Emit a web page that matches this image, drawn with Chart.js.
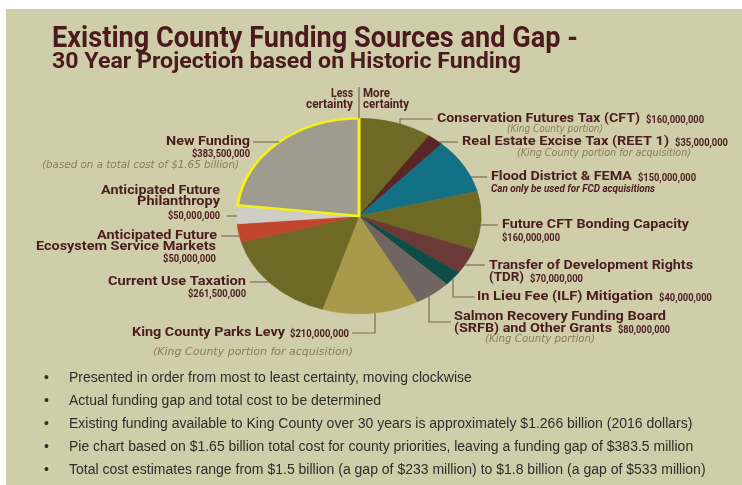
<!DOCTYPE html>
<html>
<head>
<meta charset="utf-8">
<script src="https://cdn.jsdelivr.net/npm/chart.js@4"></script>
<style>
  html, body { margin: 0; padding: 0; background: #fff; }
  #bg { position: absolute; left: 6px; top: 9px; width: 736px; height: 476px; background: #cfcdaa; }
  #c { position: absolute; left: 0; top: 0; }
</style>
</head>
<body>
<div id="bg"></div>
<canvas id="c" width="742" height="485"></canvas>
<script>
// funding sources, clockwise from 12 o'clock (most to least certain)
const categories = [
  'Conservation Futures Tax (CFT)', 'Real Estate Excise Tax (REET 1)', 'Flood District & FEMA',
  'Future CFT Bonding Capacity', 'Transfer of Development Rights (TDR)', 'In Lieu Fee (ILF) Mitigation',
  'Salmon Recovery Funding Board (SRFB) and Other Grants', 'King County Parks Levy', 'Current Use Taxation',
  'Anticipated Future Ecosystem Service Markets', 'Anticipated Future Philanthropy', 'New Funding'
];
const amounts = [160, 35, 150, 160, 70, 40, 80, 210, 261.5, 50, 50, 383.5]; // $ millions
const sliceColors = ['#6e6a25', '#5a2527', '#127185', '#6e6a25', '#6b3a37', '#0e4c47',
  '#6f6662', '#a9994b', '#6e6a25', '#c1462b', '#cecdc6', '#9f9b8e'];

const titleLines = ['Existing County Funding Sources and Gap -', '30 Year Projection based on Historic Funding'];
const bullets = [
  'Presented in order from most to least certainty, moving clockwise',
  'Actual funding gap and total cost to be determined',
  'Existing funding available to King County over 30 years is approximately $1.266 billion (2016 dollars)',
  'Pie chart based on $1.65 billion total cost for county priorities, leaving a funding gap of $383.5 million',
  'Total cost estimates range from $1.5 billion (a gap of $233 million) to $1.8 billion (a gap of $533 million)'
];

const money = v => '$' + Math.round(v * 1e6).toLocaleString('en-US');
const M = amounts.map(money);

// label lines: text, left x, middle y, fitted width, style
const labels = [
  [['Conservation Futures Tax (CFT)', 437, 119, 203, 'b'], [M[0], 646, 120, 58, 'm'], ['(King County portion)', 507, 129, 96, 'i']],
  [['Real Estate Excise Tax (REET 1)', 462, 142, 207, 'b'], [M[1], 675, 143, 53, 'm'], ['(King County portion for acquisition)', 517, 153, 174, 'i']],
  [['Flood District & FEMA', 491, 177, 141, 'b'], [M[2], 638, 178, 58, 'm'], ['Can only be used for FCD acquisitions', 491, 189, 164, 'bi']],
  [['Future CFT Bonding Capacity', 502, 225, 187, 'b'], [M[3], 502, 238, 58, 'm']],
  [['Transfer of Development Rights', 489, 266, 204, 'b'], ['(TDR)', 489, 278, 35, 'b'], [M[4], 530, 279, 53, 'm']],
  [['In Lieu Fee (ILF) Mitigation', 477, 297, 176, 'b'], [M[5], 659, 298, 53, 'm']],
  [['Salmon Recovery Funding Board', 454, 317, 212, 'b'], ['(SRFB) and Other Grants', 454, 329, 158, 'b'], [M[6], 618, 330, 52, 'm'], ['(King County portion)', 485, 339, 110, 'i']],
  [['King County Parks Levy', 132, 333, 153, 'b'], [M[7], 290, 334, 59, 'm'], ['(King County portion for acquisition)', 153, 352, 200, 'i']],
  [['Current Use Taxation', 108, 282, 138, 'b'], [M[8], 188, 294, 58, 'm']],
  [['Anticipated Future', 97, 236, 120, 'b'], ['Ecosystem Service Markets', 36, 247, 180, 'b'], [M[9], 163, 259, 53, 'm']],
  [['Anticipated Future', 101, 191, 119, 'b'], ['Philanthropy', 137, 202, 83, 'b'], [M[10], 168, 216, 52, 'm']],
  [['New Funding', 166, 142, 84, 'b'], [M[11], 192, 154, 58, 'm'], ['(based on a total cost of $1.65 billion)', 42, 165, 197, 'i']]
];

// leader lines: fixed points near the label, then straight on to the pie edge ('h' keeps y, 'v' keeps x)
const leaders = [
  [[[433, 119], [400, 119]], 'v'], [[[458, 142]], 'h'], [[[487, 177]], 'h'], [[[498, 225]], 'h'],
  [[[485, 265]], 'h'], [[[475, 297], [453, 297]], 'v'], [[[451, 322], [429, 322]], 'v'],
  [[[352, 333], [375, 333]], 'v'], [[[250, 282]], 'h'], [[[221, 236]], 'h'], [[[227, 216]], 'h'], [[[253, 142]], 'h']
];

const stretch = 1.25; // the pie in the original is an ellipse
const ink = '#4a1d1f';
const styles = {
  t1: ['bold 30px Roboto', '#4a1a1c'],
  t2: ['bold 22px Roboto', '#4a1a1c'],
  b: ['bold 13px Roboto', ink],
  m: ['bold 10px Roboto', ink],
  i: ['italic 10px "DejaVu Sans"', '#8b7c5c'],
  bi: ['bold italic 10px Roboto', ink],
  c: ['bold 12px Roboto', ink]
};

function fitText(ctx, t, x, y, w, st) {
  ctx.font = styles[st][0];
  ctx.fillStyle = styles[st][1];
  ctx.textAlign = 'left';
  ctx.textBaseline = 'middle';
  const k = w / ctx.measureText(t).width;
  ctx.save();
  ctx.translate(x, y);
  ctx.scale(k, 1);
  ctx.fillText(t, 0, 0);
  ctx.restore();
}

const ellipsePie = {
  id: 'ellipsePie',
  beforeDatasetsDraw(chart) {
    const a = chart.getDatasetMeta(0).data[0];
    const ctx = chart.ctx;
    ctx.save();
    ctx.translate(a.x, a.y);
    ctx.scale(stretch, 1);
    ctx.translate(-a.x, -a.y);
  },
  afterDatasetsDraw(chart) {
    chart.ctx.restore();
  }
};

const annotations = {
  id: 'annotations',
  afterDraw(chart) {
    const ctx = chart.ctx;
    const a = chart.getDatasetMeta(0).data[0];
    const cx = a.x, cy = a.y, ry = a.outerRadius, rx = a.outerRadius * stretch;

    // leader lines
    ctx.save();
    ctx.strokeStyle = '#7a6b5a';
    ctx.lineWidth = 1.2;
    leaders.forEach(([pts, dir]) => {
      const last = pts[pts.length - 1];
      let end;
      if (dir === 'h') {
        const dy = last[1] - cy;
        const dx = rx * Math.sqrt(Math.max(0, 1 - (dy / ry) ** 2));
        end = [last[0] > cx ? cx + dx : cx - dx, last[1]];
      } else {
        const dx = last[0] - cx;
        const dy = ry * Math.sqrt(Math.max(0, 1 - (dx / rx) ** 2));
        end = [last[0], last[1] > cy ? cy + dy : cy - dy];
      }
      ctx.beginPath();
      ctx.moveTo(pts[0][0], pts[0][1]);
      pts.slice(1).forEach(p => ctx.lineTo(p[0], p[1]));
      ctx.lineTo(end[0], end[1]);
      ctx.stroke();
    });
    // certainty divider
    ctx.beginPath();
    ctx.moveTo(cx, 87);
    ctx.lineTo(cx, cy - ry);
    ctx.stroke();
    ctx.restore();

    // titles
    fitText(ctx, titleLines[0], 52, 39, 526, 't1');
    fitText(ctx, titleLines[1], 52, 62, 469, 't2');

    fitText(ctx, 'Less', 331, 94, 22, 'c');
    fitText(ctx, 'certainty', 306, 105, 47, 'c');
    fitText(ctx, 'More', 363, 94, 27, 'c');
    fitText(ctx, 'certainty', 363, 105, 46, 'c');

    labels.forEach(block => block.forEach(l => fitText(ctx, l[0], l[1], l[2], l[3], l[4])));

    // notes
    ctx.font = '14px "Liberation Sans", Arial, sans-serif';
    ctx.fillStyle = '#2e2e2a';
    ctx.textBaseline = 'middle';
    ctx.textAlign = 'left';
    bullets.forEach((b, i) => {
      const y = 378 + i * 23;
      ctx.fillText('\u2022', 44, y);
      ctx.fillText(b, 69, y);
    });
  }
};

new Chart(document.getElementById('c'), {
  type: 'pie',
  data: {
    labels: categories,
    datasets: [{
      data: amounts,
      backgroundColor: sliceColors,
      borderColor: sliceColors.map((c, i) => i === sliceColors.length - 1 ? '#f3f01c' : c),
      borderWidth: amounts.map((v, i) => i === amounts.length - 1 ? 2.5 : 0.6),
      borderJoinStyle: 'miter'
    }]
  },
  options: {
    responsive: false,
    animation: false,
    events: [],
    layout: { padding: { left: 260, right: 284, top: 117, bottom: 170 } },
    plugins: { legend: { display: false }, tooltip: { enabled: false } }
  },
  plugins: [ellipsePie, annotations]
});
</script>
</body>
</html>
